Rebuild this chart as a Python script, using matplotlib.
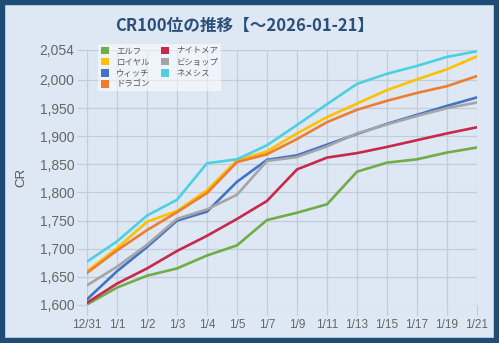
import matplotlib

matplotlib.use("Agg")
import matplotlib.pyplot as plt
from matplotlib.patches import Patch, Rectangle

# x categories (evenly spaced, not a real date axis)
dates = ["12/31", "1/1", "1/2", "1/3", "1/4", "1/5", "1/7", "1/9",
         "1/11", "1/13", "1/15", "1/17", "1/19", "1/21"]

elf = [1601, 1631, 1652, 1665, 1688, 1706, 1751, 1764, 1779, 1837, 1853, 1859, 1871, 1880]
royal = [1660, 1701, 1748, 1767, 1804, 1857, 1873, 1905, 1934, 1958, 1982, 2001, 2019, 2042]
witch = [1610, 1660, 1703, 1750, 1766, 1819, 1858, 1866, 1885, 1904, 1922, 1938, 1954, 1969]
dragon = [1657, 1697, 1733, 1765, 1799, 1854, 1868, 1895, 1925, 1947, 1963, 1977, 1989, 2007]
nightmare = [1604, 1638, 1665, 1696, 1723, 1753, 1785, 1841, 1862, 1870, 1881, 1893, 1905, 1916]
bishop = [1635, 1668, 1707, 1753, 1770, 1796, 1856, 1863, 1882, 1905, 1921, 1936, 1950, 1960]
nemesis = [1677, 1713, 1759, 1787, 1852, 1859, 1884, 1920, 1957, 1993, 2011, 2025, 2041, 2051]

y_ticks = [1600, 1650, 1700, 1750, 1800, 1850, 1900, 1950, 2000, 2054]

series = [
    ("エルフ", elf, "#70ad47"),
    ("ロイヤル", royal, "#ffc000"),
    ("ウィッチ", witch, "#4472c4"),
    ("ドラゴン", dragon, "#ed7d31"),
    ("ナイトメア", nightmare, "#c8284a"),
    ("ビショップ", bishop, "#a5a5a5"),
    ("ネメシス", nemesis, "#4dd0e1"),
]

BG = "#dde8f4"
GRID = "#c3ccd8"
JP = ["Noto Sans CJK JP", "DejaVu Sans"]
plt.rcParams["font.family"] = JP

fig = plt.figure(figsize=(4.99, 3.43), dpi=100)
fig.patch.set_facecolor(BG)
ax = fig.add_axes([87 / 499, 1 - 305 / 343, 390 / 499, (305 - 49.6) / 343])
ax.set_facecolor(BG)

x = list(range(len(dates)))
for name, vals, color in series:
    ax.plot(x, vals, color=color, lw=1.9, solid_joinstyle="round")

ax.set_xlim(0, len(dates) - 1)
ax.set_ylim(1600, 2054)
ax.set_xticks(x)
ax.set_xticklabels(dates)
ax.set_yticks(y_ticks)
ax.set_yticklabels([f"{v:,}" for v in y_ticks])
ax.grid(True, color=GRID, lw=0.9)
ax.set_axisbelow(True)
for sp in ax.spines.values():
    sp.set_visible(False)
ax.tick_params(axis="both", length=7, width=0.9, color=GRID, colors="#666666")
ax.tick_params(axis="x", labelsize=8.5, pad=3)
ax.tick_params(axis="y", labelsize=10, pad=2)
for lab in ax.get_xticklabels() + ax.get_yticklabels():
    lab.set_color("#666666")
    lab.set_family("Liberation Sans")
ax.set_ylabel("CR", fontsize=9.5, color="#555555", labelpad=9, family="Liberation Sans")

fig.text(0.49, 1 - 26 / 343, "CR100位の推移【～2026-01-21】", ha="center", va="center",
         fontsize=12, fontweight="bold", color="#2c5078")

handles = [Patch(facecolor=c, edgecolor="none", label=n) for n, _, c in series]
leg = fig.legend(handles=handles, loc="upper left", bbox_to_anchor=(98 / 499, 1 - 44 / 343),
                 ncol=2, fontsize=6, frameon=True, fancybox=False, handlelength=1.0,
                 handleheight=1.0, handletextpad=0.9, labelspacing=0.25, columnspacing=1.3,
                 borderpad=0.3, borderaxespad=0)
leg.get_frame().set_facecolor("white")
leg.get_frame().set_alpha(0.55)
leg.get_frame().set_edgecolor("none")
for t in leg.get_texts():
    t.set_color("#555555")

fig.patches.append(Rectangle((0, 0), 1, 1, transform=fig.transFigure, fill=False,
                             edgecolor="#1f4b77", linewidth=7.5, zorder=10))

fig.savefig("out.png", dpi=100, facecolor=BG)
